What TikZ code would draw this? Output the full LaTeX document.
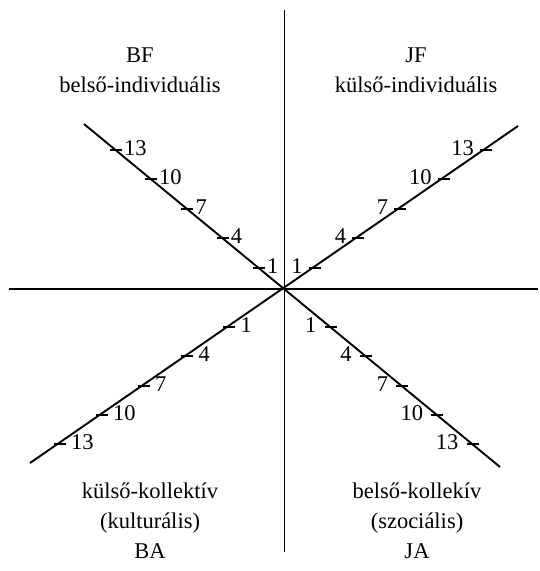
\documentclass[tikz,border=0pt]{standalone}
\usepackage{fontspec}
\setmainfont{Liberation Serif}

\begin{document}
\begin{tikzpicture}[
    x=1pt, y=-1pt,
    axis/.style={line width=1.9pt},
    tickmark/.style={line width=1.2pt},
    every node/.style={font=\fontsize{22.5}{30}\selectfont, inner sep=0pt},
    quadlabel/.style={align=center, anchor=base}
]
\useasboundingbox (0,0) rectangle (539,571);

\coordinate (O) at (284.5,289);
\coordinate (left) at (9,289);
\coordinate (right) at (538,289);
\coordinate (top) at (284.5,10);
\coordinate (bottom) at (284.5,552);
\coordinate (ul) at (84,124);
\coordinate (lr) at (500,467);
\coordinate (ur) at (518,126);
\coordinate (ll) at (30,463);

% Axes
\draw[axis] (left) -- (right);
\draw[axis] (top) -- (bottom);
\draw[axis] (ul) -- (lr);
\draw[axis] (ur) -- (ll);

% upper ticks
\foreach \n/\d in {1/21,4/51,7/80,10/110,13/139} {
  \coordinate (bf\n) at ({284.5-\d/0.824},{289-\d});
  \coordinate (jf\n) at ({284.5+\d/0.69},{289-\d});
  \draw[tickmark] ([xshift=-6pt]bf\n) -- ([xshift=6pt]bf\n);
  \draw[tickmark] ([xshift=-6pt]jf\n) -- ([xshift=6pt]jf\n);
  \node[anchor=west] (bfl\n) at ([xshift=8pt,yshift=2pt]bf\n) {\n};
  \node[anchor=east] (jfl\n) at ([xshift=-12pt,yshift=2pt]jf\n) {\n};
}

% lower ticks
\foreach \n/\d in {1/38,4/67,7/97,10/126,13/155} {
  \coordinate (ba\n) at ({284.5-\d/0.69},{289+\d});
  \coordinate (ja\n) at ({284.5+\d/0.824},{289+\d});
  \draw[tickmark] ([xshift=-6pt]ba\n) -- ([xshift=6pt]ba\n);
  \draw[tickmark] ([xshift=-6pt]ja\n) -- ([xshift=6pt]ja\n);
  \node[anchor=west] (bal\n) at ([xshift=11pt,yshift=2pt]ba\n) {\n};
  \node[anchor=east] (jal\n) at ([xshift=-14pt,yshift=2pt]ja\n) {\n};
}

% Quadrants
\node[quadlabel] (bf) at (140,92) {BF\\belső-individuális};
\node[quadlabel] (jf) at (416,92) {JF\\külső-individuális};
\node[quadlabel] (ba) at (150,558) {külső-kollektív\\(kulturális)\\BA};
\node[quadlabel] (ja) at (417,558) {belső-kollekív\\(szociális)\\JA};

\end{tikzpicture}
\end{document}
